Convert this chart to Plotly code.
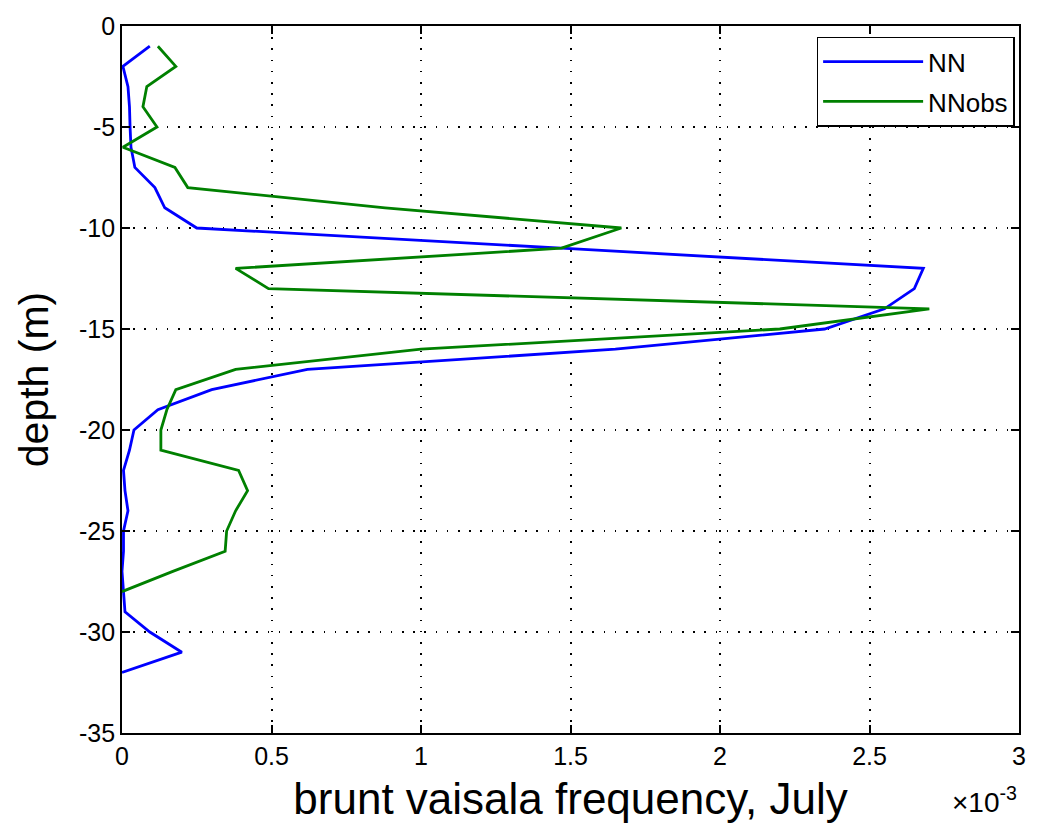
import plotly.graph_objects as go

# Depth (m) for each series
depth_nn = [-1, -2, -3, -4, -5, -6, -7, -8, -9, -10, -11, -12, -13, -14, -15, -16,
            -17, -18, -19, -20, -21, -22, -23, -24, -25, -26, -27, -28, -29, -30, -31, -32]
# Brunt-Vaisala frequency, model (units of 1e-3)
nn = [0.093, 0.003, 0.02, 0.025, 0.027, 0.03, 0.043, 0.11, 0.143, 0.25, 1.47, 2.68,
      2.65, 2.55, 2.35, 1.65, 0.62, 0.30, 0.12, 0.04, 0.025, 0.005, 0.01, 0.02,
      0.005, 0.005, 0.0, 0.005, 0.01, 0.093, 0.2, 0.0]

depth_obs = [-1, -2, -3, -4, -5, -6, -7, -8, -9, -10, -11, -12, -13, -14, -15, -16,
             -17, -18, -19, -20, -21, -22, -23, -24, -25, -26, -27, -28]
# Brunt-Vaisala frequency, observed (units of 1e-3)
nnobs = [0.12, 0.18, 0.083, 0.07, 0.117, 0.003, 0.177, 0.22, 0.88, 1.67, 1.47, 0.38,
         0.49, 2.70, 2.2, 1.0, 0.38, 0.18, 0.15, 0.13, 0.13, 0.39, 0.42, 0.38,
         0.35, 0.345, 0.17, 0.0]

x_ticks = [0, 0.5, 1, 1.5, 2, 2.5, 3]
x_tick_labels = ["0", "0.5", "1", "1.5", "2", "2.5", "3"]
y_ticks = [0, -5, -10, -15, -20, -25, -30, -35]
y_tick_labels = ["0", "-5", "-10", "-15", "-20", "-25", "-30", "-35"]

FONT = "Liberation Sans, Arial, Helvetica, sans-serif"

fig = go.Figure()
fig.add_trace(go.Scatter(x=nn, y=depth_nn, mode="lines", name="NN", legendgroup="a",
                         line=dict(color="#0000FF", width=2.8)))
fig.add_trace(go.Scatter(x=nnobs, y=depth_obs, mode="lines", name="NNobs", legendgroup="b",
                         line=dict(color="#008000", width=2.8)))

axis_common = dict(
    showline=True, linecolor="black", linewidth=1.6, mirror="ticks",
    ticks="inside", ticklen=8, tickcolor="black", tickwidth=1.6,
    showgrid=True, gridcolor="black", griddash="1.6px,9.6px", gridwidth=1.6,
    zeroline=False, tickfont=dict(family=FONT, size=25, color="black"),
)

fig.update_layout(
    width=1038, height=833,
    margin=dict(l=122, r=16, t=17, b=100),
    paper_bgcolor="white", plot_bgcolor="white",
    xaxis=dict(range=[0, 3], tickvals=x_ticks, ticktext=x_tick_labels,
               title=dict(text="brunt vaisala frequency, July",
                          font=dict(family=FONT, size=44, color="black"), standoff=14),
               **axis_common),
    yaxis=dict(range=[-35, 0], tickvals=y_ticks, ticktext=y_tick_labels,
               title=dict(text="depth (m)",
                          font=dict(family=FONT, size=41, color="black"), standoff=18),
               **axis_common),
    legend=dict(x=0.995, y=0.985, xanchor="right", yanchor="top",
                bgcolor="white", bordercolor="black", borderwidth=1.6,
                font=dict(family=FONT, size=26, color="black"),
                itemwidth=100, tracegroupgap=3),
    showlegend=True,
)

fig.add_annotation(text="×10<sup>-3</sup>", xref="paper", yref="paper",
                   x=1.0, y=-0.095, xanchor="right", yanchor="middle",
                   showarrow=False, font=dict(family=FONT, size=28, color="black"))

fig.write_html("out.html")
